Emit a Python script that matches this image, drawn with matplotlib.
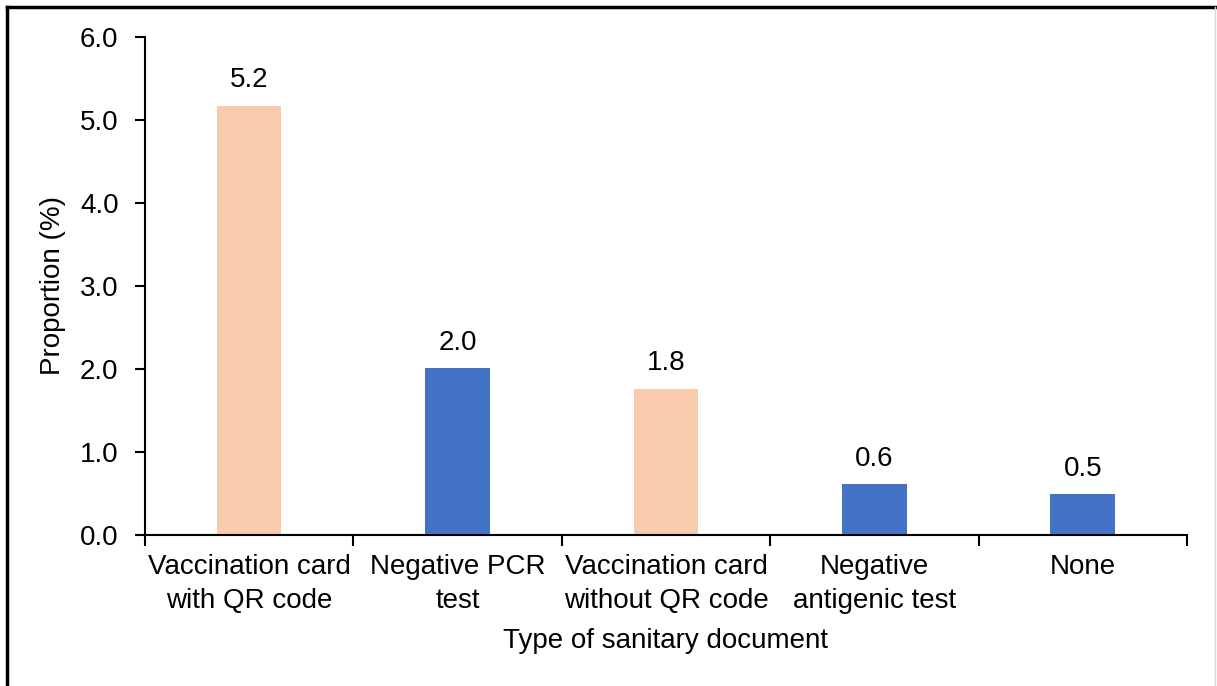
import numpy as np
import matplotlib.pyplot as plt
from matplotlib.lines import Line2D

plt.rcParams['font.family'] = ['Liberation Sans', 'DejaVu Sans']

# datos
categorias = ["Vaccination card\nwith QR code", "Negative PCR\ntest",
              "Vaccination card\nwithout QR code", "Negative\nantigenic test", "None"]
valores = [5.17, 2.01, 1.76, 0.61, 0.49]
colores = ["#F8CBAD", "#4472C4", "#F8CBAD", "#4472C4", "#4472C4"]
yticks = [0.0, 1.0, 2.0, 3.0, 4.0, 5.0, 6.0]

fig = plt.figure(figsize=(12.17, 6.86), dpi=100)
ax = fig.add_axes([0.1191, 0.2201, 0.8562, 0.726])

x = np.arange(len(categorias))
barras = ax.bar(x, valores, width=0.31, color=colores)
for b, v in zip(barras, valores):
    ax.annotate(f"{v:.1f}", (b.get_x() + b.get_width() / 2, v), xytext=(0, 9),
                textcoords="offset points", ha="center", va="bottom", fontsize=20)

ax.set_xlim(-0.5, len(categorias) - 0.5)
ax.set_ylim(0, 6)
ax.set_yticks(yticks)
ax.set_yticklabels([f"{t:.1f}" for t in yticks], fontsize=20)
ax.set_xticks(x)
ax.set_xticklabels(categorias, fontsize=20, linespacing=1.4)
ax.set_xticks(np.arange(-0.5, len(categorias)), minor=True)
ax.tick_params(axis='x', which='major', length=0, pad=14)
ax.tick_params(axis='x', which='minor', length=8, width=1.5, direction='out')
ax.tick_params(axis='y', length=7, width=1.5, direction='out', pad=12)

for s in ['top', 'right']:
    ax.spines[s].set_visible(False)
for s in ['left', 'bottom']:
    ax.spines[s].set_linewidth(1.5)

ax.set_ylabel("Proportion (%)", fontsize=20, labelpad=10)
ax.set_xlabel("Type of sanitary document", fontsize=20, labelpad=10)

# marco de la figura
fig.add_artist(Line2D([0.006, 0.006], [0, 0.99], transform=fig.transFigure, color='black', lw=2.5))
fig.add_artist(Line2D([0.006, 1.0], [0.99, 0.99], transform=fig.transFigure, color='black', lw=2.5))
fig.add_artist(Line2D([0.9985, 0.9985], [0, 0.99], transform=fig.transFigure, color='#D9D9D9', lw=1))

fig.savefig("out.png", dpi=100)
